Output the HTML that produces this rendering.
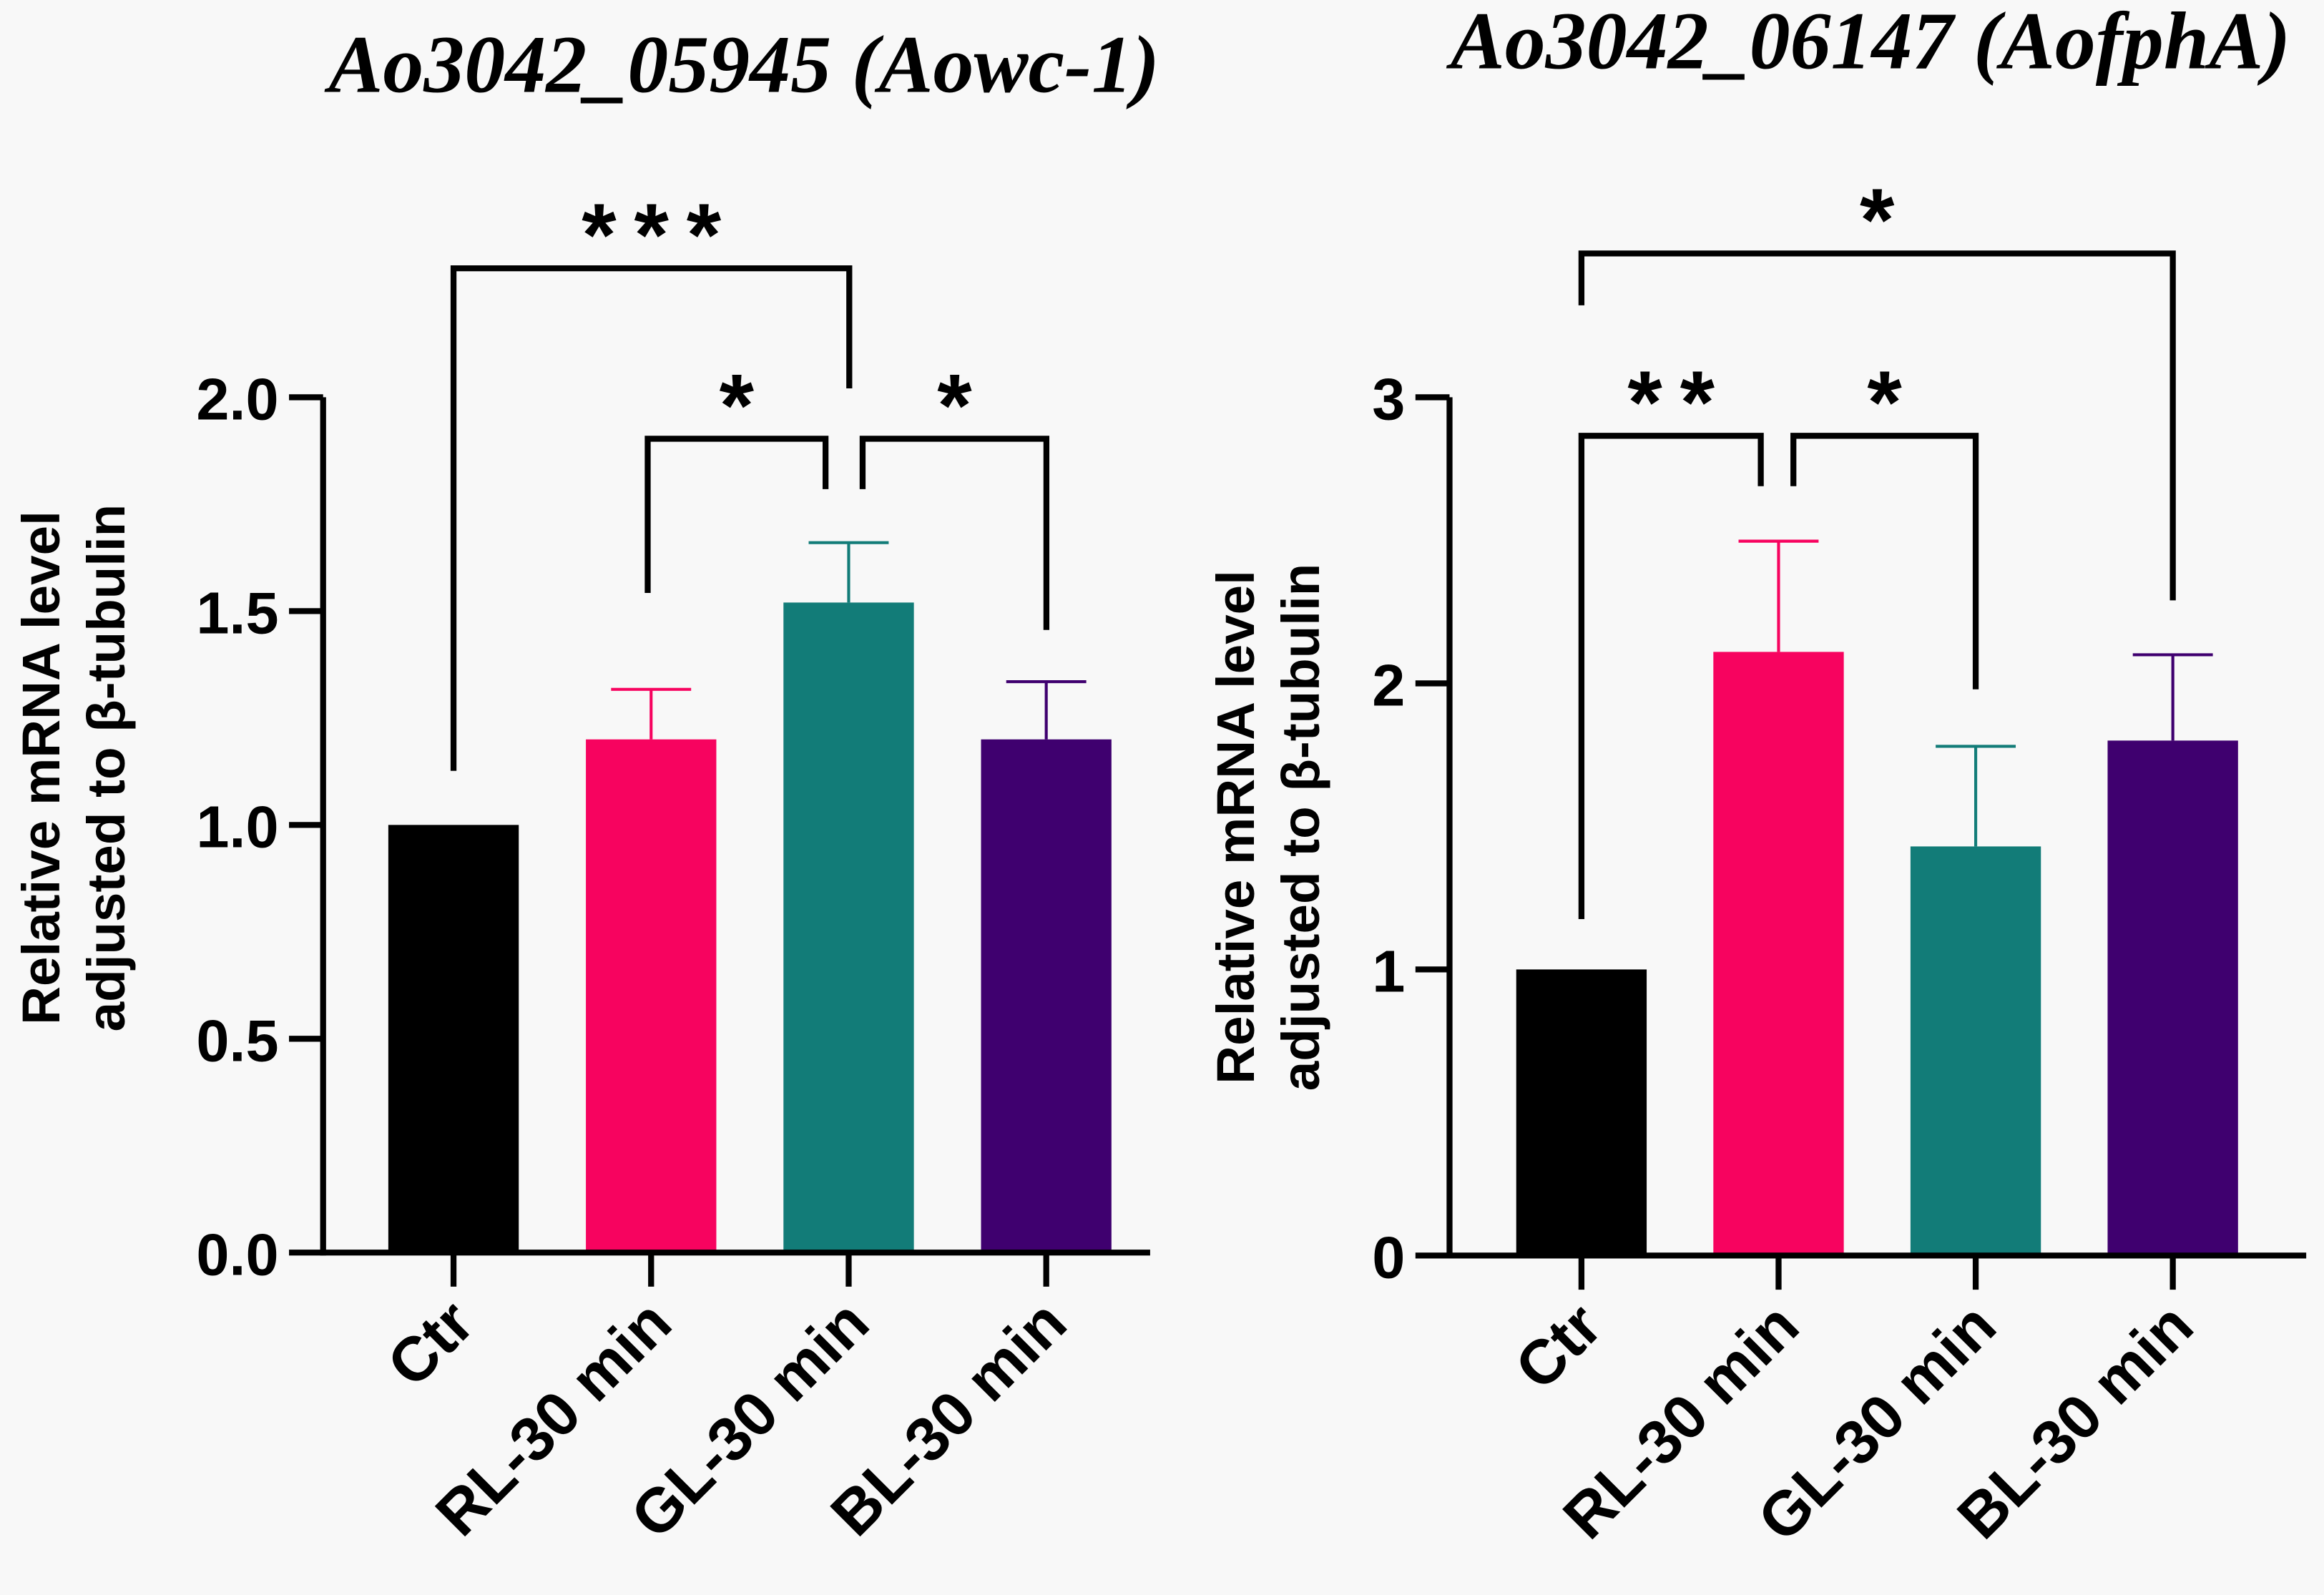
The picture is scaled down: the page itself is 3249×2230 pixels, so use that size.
<!DOCTYPE html>
<html><head><meta charset="utf-8"><style>
html,body{margin:0;padding:0;background:#f8f8f8}
svg{display:block}
text{font-family:"Liberation Sans",sans-serif;font-weight:bold;fill:#000}
.t{font-family:"Liberation Serif",serif;font-style:italic;font-size:55px}
</style></head><body>
<svg id="c" width="3249" height="2230" viewBox="0 0 1568 1076" preserveAspectRatio="none">
<rect width="1568" height="1076" fill="#f8f8f8"/>
</svg>
<script>
const categories=["Ctr","RL-30 min","GL-30 min","BL-30 min"];
const colors=["#000000","#f7035f","#127c78","#3f006f"];
const meansA=[1.0,1.2,1.52,1.2];
const errA=[0,1.317,1.66,1.335];
const ticksA=[0,0.5,1.0,1.5,2.0];
const tickLabelsA=["0.0","0.5","1.0","1.5","2.0"];
const meansB=[1.0,2.11,1.43,1.8];
const errB=[0,2.497,1.78,2.1];
const ticksB=[0,1,2,3];
const tickLabelsB=["0","1","2","3"];
const svg=document.getElementById('c');
const NS="http://www.w3.org/2000/svg";
function mk(tag,a,name,parent){const e=document.createElementNS(NS,tag);for(const k in a)e.setAttribute(k,a[k]);


(parent||svg).appendChild(e);return e;}
function panel(o){
 const g=mk('g',{},o.id);
 const y=v=>o.y0-(v/o.ymax)*(o.y0-o.ytop);
 const x=i=>o.x0+i*o.step;
 mk('text',{x:o.tx,y:o.ty,'text-anchor':'middle',class:'t'},'chart-title',g).textContent=o.title;
 const yl=mk('text',{transform:`translate(${o.ylx},${o.lyc}) rotate(-90)`,'text-anchor':'middle','font-size':36},'y-axis-title',g);
 const s1=document.createElementNS(NS,'tspan');s1.setAttribute('x',0);s1.setAttribute('dy',0);s1.textContent='Relative mRNA level';yl.appendChild(s1);
 const s2=document.createElementNS(NS,'tspan');s2.setAttribute('x',0);s2.setAttribute('dy',44);s2.textContent='adjusted to β-tubulin';yl.appendChild(s2);
 o.means.forEach((m,i)=>{
  const top=y(o.err[i]||m);
  if(o.err[i]){
   mk('line',{x1:x(i),x2:x(i),y1:y(m),y2:top,stroke:colors[i],'stroke-width':2},'error-bar-'+i,g);
   mk('line',{x1:x(i)-27,x2:x(i)+27,y1:top,y2:top,stroke:colors[i],'stroke-width':2},'error-cap-'+i,g);
  }
  mk('rect',{x:x(i)-44,y:y(m),width:88,height:o.y0-y(m),fill:colors[i]},'bar-'+categories[i].toLowerCase().replace(/\s/g,''),g);
  mk('line',{x1:x(i),x2:x(i),y1:o.y0,y2:o.y0+23,stroke:'#000','stroke-width':4},'x-tick',g);
  mk('text',{transform:`translate(${x(i)+16},${o.y0+50}) rotate(-45)`,'text-anchor':'end','font-size':42},'x-tick-label',g).textContent=categories[i];
 });
 mk('line',{x1:o.ax,x2:o.ax,y1:o.ytop,y2:o.y0+2,stroke:'#000','stroke-width':4},'y-axis',g);
 mk('line',{x1:o.ax-2,x2:o.xend,y1:o.y0,y2:o.y0,stroke:'#000','stroke-width':4},'x-axis',g);
 o.ticks.forEach((t,j)=>{
  mk('line',{x1:o.ax-23,x2:o.ax,y1:y(t),y2:y(t),stroke:'#000','stroke-width':4},'y-tick',g);
  mk('text',{x:o.ax-30,y:y(t)+15,'text-anchor':'end','font-size':40},'y-tick-label',g).textContent=o.labels[j];
 });
 o.br.forEach((b,k)=>{
  mk('polyline',{points:`${b[0]},${b[1]} ${b[0]},${b[2]} ${b[3]},${b[2]} ${b[3]},${b[4]}`,fill:'none',stroke:'#000','stroke-width':4},'significance-bracket',g);
  mk('text',{x:(b[0]+b[3])/2+6,y:b[2]-2,'text-anchor':'middle','font-size':60,'letter-spacing':12},'significance-stars',g).textContent=b[5];
 });
}
panel({id:'chart-aowc1',title:'Ao3042_05945 (Aowc-1)',tx:502,ty:62,ylx:40,lyc:518,x0:306,step:133.3,y0:845,ytop:268,ymax:2,ax:218,xend:776,
 means:meansA,err:errA,ticks:ticksA,labels:tickLabelsA,
 br:[[306,520,181,573,262,'***'],[437,400,296,557,330,'*'],[582,330,296,706,425,'*']]});
panel({id:'chart-aofpha',title:'Ao3042_06147 (AofphA)',tx:1262,ty:46,ylx:846,lyc:558,x0:1067,step:133,y0:847,ytop:268,ymax:3,ax:978,xend:1556,
 means:meansB,err:errB,ticks:ticksB,labels:tickLabelsB,
 br:[[1067,206,171,1466,405,'*'],[1067,620,294,1188,328,'**'],[1210,328,294,1333,465,'*']]});
</script>
</body></html>
